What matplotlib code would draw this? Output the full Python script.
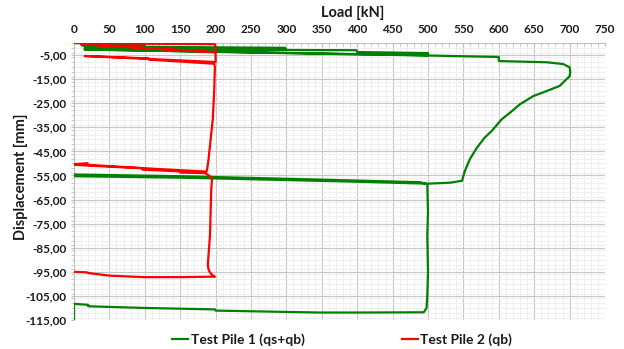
import matplotlib
matplotlib.use("Agg")
import matplotlib.pyplot as plt
from matplotlib.ticker import MultipleLocator, FixedLocator, FuncFormatter

# ---------------- data ----------------
pile1_load = [0, 100, 100, 10, 15, 150, 298, 300, 15, 100, 200, 300, 399, 400, 500, 500,
              15, 300, 500, 600, 600, 668, 691, 700, 701, 700, 686, 668, 649, 630, 616, 604,
              590, 580, 569, 559, 552, 548, 531, 507, 500, 400, 300, 150, 0, 0, 149, 319,
              489, 499, 500, 499, 500, 499, 498, 494, 400, 347, 200, 199, 100, 20, 20, 0, 0]
pile1_disp = [0, -0.6, -0.8, -0.7, -1.4, -1.7, -2.0, -2.8, -2.3, -2.5, -2.8, -2.9, -3.0, -3.75, -4.2, -5.1,
              -2.7, -4.2, -5.2, -5.8, -7.5, -8.0, -8.75, -10.1, -12.0, -13.8, -17.8, -19.9, -22.0, -25.4, -28.9, -31.7,
              -36.5, -39.3, -43.5, -48.3, -53.2, -57.2, -58.0, -58.3, -58.4, -57.6, -56.9, -55.9, -55.3, -54.6, -55.3, -56.5,
              -57.8, -58.6, -70.0, -80.0, -95.0, -105.0, -110.0, -111.8, -111.9, -111.9, -111.1, -110.6, -110.0, -109.3, -108.7, -108.3, -116.0]

pile2_load = [0, 100, 199, 200, 11, 200, 200, 15, 105, 106, 198, 199, 198, 196, 193, 190,
              188, 187, 150, 100, 20, 19, 0, 0, 20, 97, 97, 150, 150, 185, 192, 195,
              194, 193, 192, 190, 189, 190, 192, 196, 199, 150, 98, 51, 20, 18, 0]
pile2_disp = [0, -0.3, -0.5, -3.8, -0.5, -3.9, -7.9, -5.4, -6.4, -6.9, -8.6, -10.0, -20.0, -31.7, -40.0, -48.3,
              -52.5, -53.4, -52.8, -52.0, -50.6, -49.9, -50.3, -50.5, -50.9, -52.0, -52.6, -53.3, -53.8, -54.0, -55.3, -56.5,
              -60.0, -70.0, -80.0, -88.0, -92.0, -94.0, -95.2, -96.5, -97.0, -97.2, -97.2, -96.6, -95.5, -95.2, -95.0]

series_names = ["Test Pile 1 (qs+qb)", "Test Pile 2 (qb)"]
series_colors = ["#008000", "#FF0000"]

x_ticks = list(range(0, 751, 50))
y_ticks = list(range(-115, 0, 10))

# ---------------- figure ----------------
FONT = "Lato"
fig = plt.figure(figsize=(6.24, 3.49), dpi=100)
ax = fig.add_axes([74 / 624, 1 - 320 / 349, (605 - 74) / 624, (320 - 43) / 349])

ax.plot(pile1_load, pile1_disp, color=series_colors[0], lw=1.6, label=series_names[0],
        solid_joinstyle="round", zorder=3)
ax.plot(pile2_load, pile2_disp, color=series_colors[1], lw=1.6, label=series_names[1],
        solid_joinstyle="round", zorder=4)

ax.set_xlim(0, 750)
ax.set_ylim(-115, 0)

ax.xaxis.tick_top()
ax.xaxis.set_label_position("top")
ax.xaxis.set_major_locator(FixedLocator(x_ticks))
ax.xaxis.set_minor_locator(MultipleLocator(10))
ax.yaxis.set_major_locator(FixedLocator(y_ticks))
ax.yaxis.set_minor_locator(MultipleLocator(2))
ax.yaxis.set_major_formatter(FuncFormatter(lambda v, p: f"{v:.2f}".replace(".", ",")))
ax.xaxis.set_major_formatter(FuncFormatter(lambda v, p: f"{int(v)}"))

ax.grid(which="major", color="#C6C6C6", lw=0.8, zorder=1)
ax.grid(which="minor", color="#EDEDED", lw=0.6, zorder=0)
ax.set_axisbelow(True)

for s in ["right", "bottom"]:
    ax.spines[s].set_visible(False)
for s in ["left", "top"]:
    ax.spines[s].set_color("#BFBFBF")
    ax.spines[s].set_linewidth(0.8)

ax.tick_params(axis="x", which="both", direction="in", length=2.5, color="#BFBFBF",
               pad=6, labelsize=8.5, top=True, bottom=False)
ax.tick_params(axis="y", which="both", direction="out", length=2.5, color="#BFBFBF",
               pad=3, labelsize=8.5)
for lab in ax.get_xticklabels() + ax.get_yticklabels():
    lab.set_fontfamily(FONT)
    lab.set_fontweight("bold")
    lab.set_color("#1a1a1a")

fig.text(353 / 624, 1 - 13 / 349, "Load [kN]", ha="center", va="center",
         fontsize=10.5, fontweight="bold", family=FONT, color="#1a1a1a")
fig.text(21 / 624, 1 - 177 / 349, "Displacement [mm]", ha="center", va="center",
         rotation=90, fontsize=10.5, fontweight="bold", family=FONT, color="#1a1a1a")

leg = fig.legend(loc="center", bbox_to_anchor=(342 / 624, 1 - 340 / 349), ncol=2,
                 frameon=False, handlelength=1.2, handletextpad=0.15, columnspacing=7.0,
                 borderpad=0.1, prop={"family": FONT, "weight": "bold", "size": 10})
for t in leg.get_texts():
    t.set_color("#1a1a1a")

fig.savefig("out.png", dpi=100)
